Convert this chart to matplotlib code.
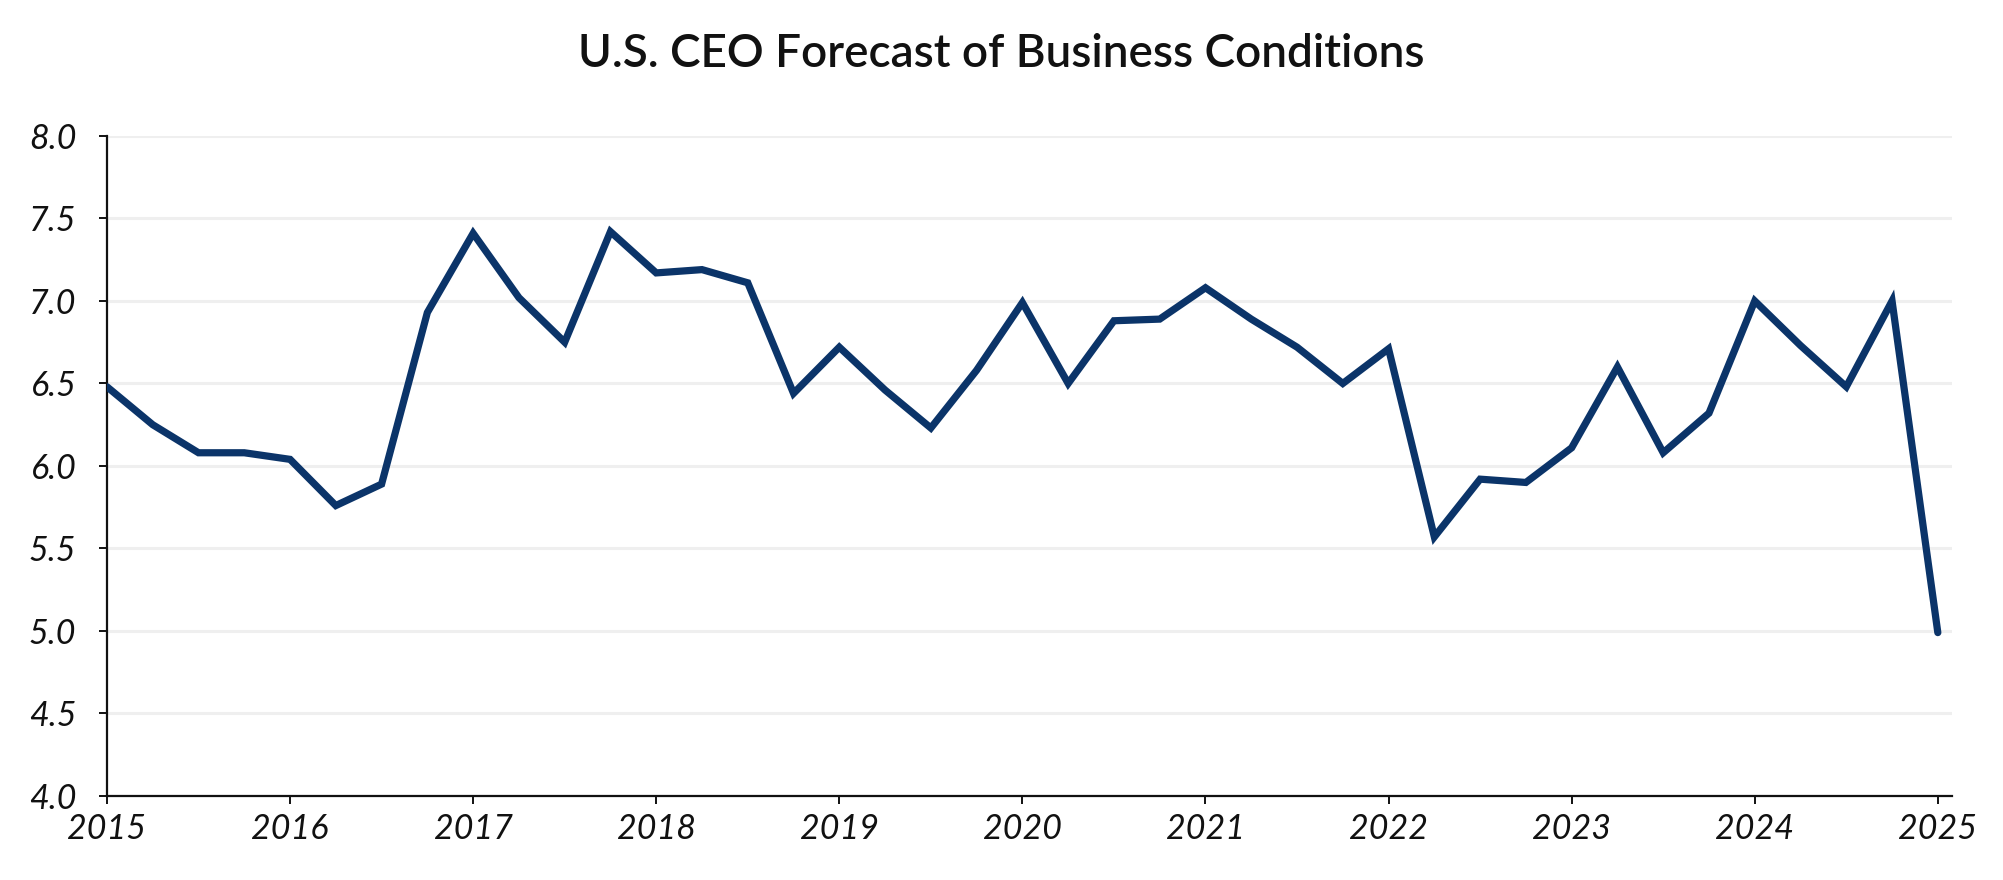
import numpy as np
import matplotlib.pyplot as plt

# quarterly readings, Q1 2015 .. Q1 2025
quarters = np.arange(2015, 2025.01, 0.25)
ceo_index = [6.48, 6.25, 6.08, 6.08, 6.04, 5.76, 5.89, 6.93,
             7.41, 7.02, 6.75, 7.42, 7.17, 7.19, 7.11, 6.44,
             6.72, 6.46, 6.23, 6.58, 6.99, 6.50, 6.88, 6.89,
             7.08, 6.89, 6.72, 6.50, 6.71, 5.57, 5.92, 5.90,
             6.11, 6.60, 6.08, 6.32, 7.00, 6.73, 6.48, 7.00,
             4.99]
year_ticks = list(range(2015, 2026))
y_ticks = [4.0, 4.5, 5.0, 5.5, 6.0, 6.5, 7.0, 7.5, 8.0]

navy = "#0b3469"

fig = plt.figure(figsize=(20.03, 8.8), dpi=100)
ax = fig.add_axes([0.0534, 0.0955, 0.9211, 0.75])

ax.plot(quarters, ceo_index, color=navy, lw=5.2,
        solid_joinstyle="miter", solid_capstyle="round", zorder=3)

ax.set_xlim(2015, 2025.077)
ax.set_ylim(4, 8)
ax.set_yticks(y_ticks)
ax.set_yticklabels(["%.1f" % v for v in y_ticks])
ax.set_xticks(year_ticks)
ax.set_xticklabels([str(y) for y in year_ticks])

ax.grid(axis="y", color="#efefef", lw=2.2, zorder=0)
ax.set_axisbelow(True)
for s in ["top", "right"]:
    ax.spines[s].set_visible(False)
for s in ["left", "bottom"]:
    ax.spines[s].set_linewidth(1.6)
    ax.spines[s].set_color("#111111")

ax.tick_params(axis="y", length=6, width=1.4, pad=16, colors="#111111")
ax.tick_params(axis="x", length=6, width=1.4, pad=6, colors="#111111")
for lab in ax.get_xticklabels() + ax.get_yticklabels():
    lab.set_fontfamily(["Lato", "DejaVu Sans"])
    lab.set_fontstyle("italic")
    lab.set_fontsize(24.5)
    lab.set_color("#111111")

fig.text(0.5, 1 - 67 / 880, "U.S. CEO Forecast of Business Conditions",
         ha="center", va="baseline", fontsize=33,
         family=["Lato", "DejaVu Sans"], fontweight="semibold", color="#111111")

fig.savefig("out.png", dpi=100, facecolor="white")
